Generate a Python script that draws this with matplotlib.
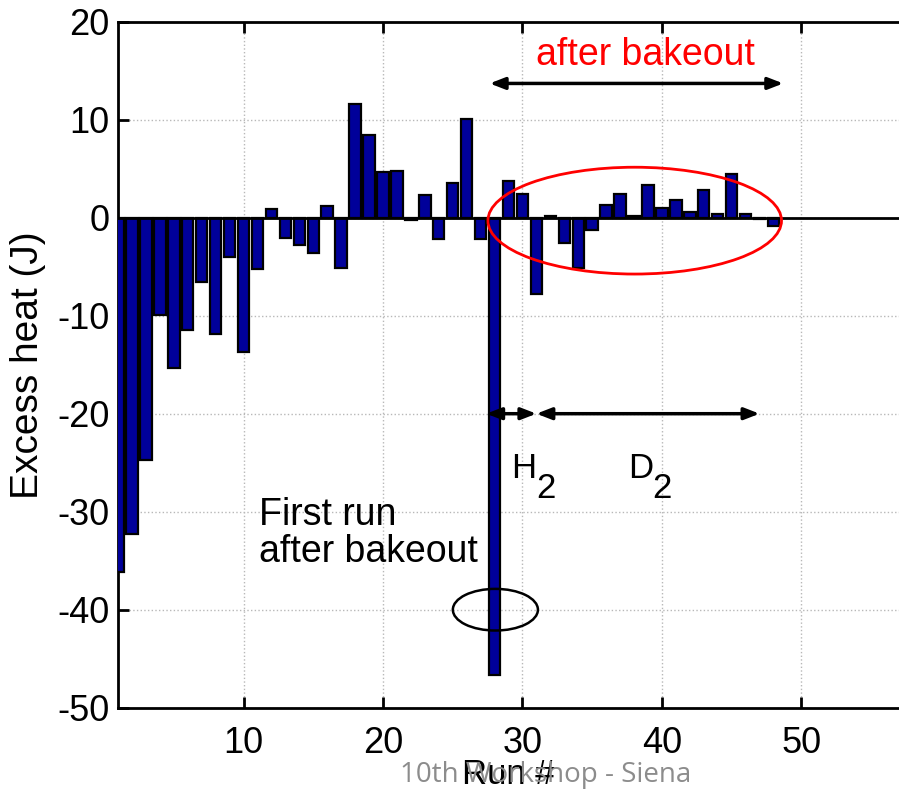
import matplotlib

matplotlib.use("Agg")
import matplotlib.pyplot as plt
from matplotlib.patches import Ellipse

plt.rcParams["font.family"] = ["Liberation Sans", "DejaVu Sans"]
plt.rcParams["axes.unicode_minus"] = False

# excess heat per run (J), runs 1..48
runs = list(range(1, 49))
excess_heat = [
    -36.2, -32.3, -24.7, -9.9, -15.3, -11.5, -6.6, -11.9, -4.0, -13.7,
    -5.2, 0.9, -2.1, -2.8, -3.6, 1.2, -5.1, 11.6, 8.4, 4.7,
    4.8, -0.2, 2.3, -2.2, 3.5, 10.1, -2.2, -46.7, 3.7, 2.4,
    -7.8, 0.2, -2.6, -5.1, -1.3, 1.3, 2.4, 0.2, 3.3, 1.0,
    1.8, 0.6, 2.8, 0.4, 4.5, 0.4, -0.1, -0.8,
]
x_ticks = [10, 20, 30, 40, 50]
y_ticks = [-50, -40, -30, -20, -10, 0, 10, 20]

fig = plt.figure(figsize=(8.99, 7.90), dpi=100)
ax = fig.add_axes([118 / 899, 1 - 707.7 / 790, (899 - 118) / 899, (707.7 - 21.7) / 790])

ax.bar(runs, excess_heat, width=0.82, color="#00009a", edgecolor="black", linewidth=1.6, zorder=3)
ax.axhline(0, color="black", linewidth=2, zorder=4)

ax.set_xlim(1, 57)
ax.set_ylim(-50, 20)
ax.set_xticks(x_ticks)
ax.set_yticks(y_ticks)
ax.grid(True, linestyle=":", color="#b8b8b8", linewidth=1.0, zorder=0)

ax.tick_params(direction="in", length=8, width=2, top=True)
ax.tick_params(axis="x", pad=13, labelsize=26)
ax.tick_params(axis="y", pad=6, labelsize=26)
for side in ["left", "bottom", "top"]:
    ax.spines[side].set_linewidth(2)
ax.spines["right"].set_visible(False)

ax.set_xlabel("Run #", fontsize=25, labelpad=-2)
ax.set_ylabel("Excess heat (J)", fontsize=28, labelpad=8)

arrow_props = {"arrowstyle": "<|-|>,head_length=0.9,head_width=0.35",
               "color": "black", "linewidth": 2.5, "shrinkA": 0, "shrinkB": 0}

# after bakeout region
ax.text(38.8, 16.6, "after bakeout", color="red", fontsize=27, ha="center", va="center")
ax.annotate("", xy=(48.7, 13.7), xytext=(27.65, 13.7), arrowprops=arrow_props)
ax.add_patch(Ellipse((38.05, -0.3), 21.05, 10.9, fill=False, edgecolor="red", linewidth=2, zorder=5))

# H2 / D2 periods
ax.annotate("", xy=(31.0, -20), xytext=(27.4, -20), arrowprops=arrow_props, zorder=6)
ax.annotate("", xy=(47.0, -20), xytext=(31.0, -20), arrowprops=arrow_props, zorder=6)
ax.text(29.2, -25.6, "H", fontsize=25, ha="left", va="center")
ax.text(31.0, -27.6, "2", fontsize=25, ha="left", va="center")
ax.text(37.55, -25.6, "D", fontsize=25, ha="left", va="center")
ax.text(39.3, -27.6, "2", fontsize=25, ha="left", va="center")

ax.text(11.1, -32.2, "First run\nafter bakeout", fontsize=27, ha="left", va="center", linespacing=1.05)
ax.add_patch(Ellipse((28.06, -40.0), 6.1, 4.25, fill=False, edgecolor="black", linewidth=1.8, zorder=6))

fig.text(546 / 899, 1 - 775 / 790, "10th Workshop - Siena", color="#8c8c8c",
         fontsize=20, family="Open Sans", ha="center", va="center")

fig.savefig("out.png", dpi=100)
